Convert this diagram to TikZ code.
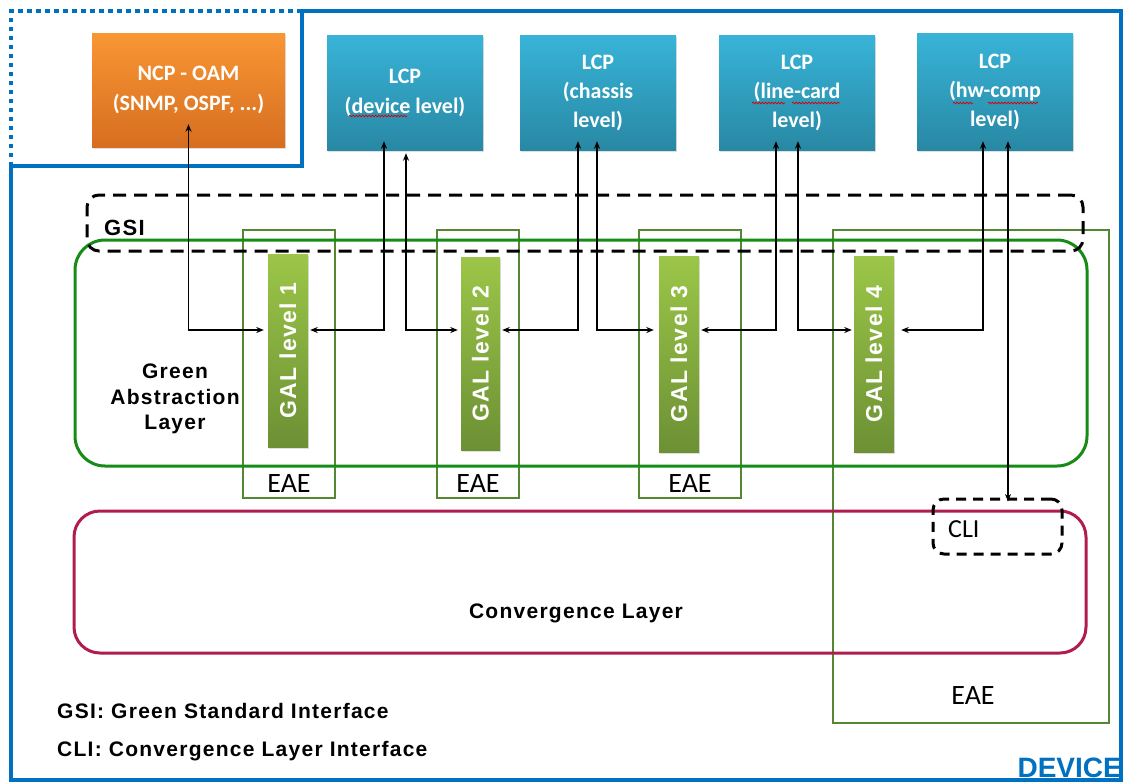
\documentclass[tikz,border=0pt]{standalone}
\usepackage{fontspec}
\setmainfont{Carlito}
\newfontfamily\arialsp[LetterSpace=6]{Liberation Sans}
\newfontfamily\arialn{Liberation Sans}
\usetikzlibrary{arrows.meta,shadows,decorations.pathmorphing}

\definecolor{devblue}{RGB}{0,112,192}
\definecolor{lcptop}{RGB}{56,180,216}
\definecolor{lcpbot}{RGB}{40,136,164}
\definecolor{ncptop}{RGB}{249,150,52}
\definecolor{ncpbot}{RGB}{214,110,32}
\definecolor{galtop}{RGB}{156,198,72}
\definecolor{galbot}{RGB}{108,144,52}
\definecolor{galline}{RGB}{22,140,22}
\definecolor{eaeline}{RGB}{84,134,52}
\definecolor{convline}{RGB}{176,28,80}

\tikzset{
  softshadow/.style={drop shadow={opacity=0.25,shadow xshift=1pt,shadow yshift=-2pt}},
  ctrlbox/.style={rectangle, draw=none, text=white, align=center, softshadow,
    font=\bfseries\fontsize{22}{29}\selectfont},
  lcpbox/.style={ctrlbox, top color=lcptop, bottom color=lcpbot,
    minimum width=156pt, minimum height=115pt},
  galbar/.style={rectangle, draw=none, top color=galtop, bottom color=galbot,
    minimum width=40pt, text=white, softshadow, inner sep=0pt,
    font=\arialsp\bfseries\fontsize{23}{26}\selectfont},
  eaebox/.style={rectangle, draw=eaeline, line width=1.2pt, fill=none},
  eaetext/.style={anchor=base, inner sep=0pt, font=\fontsize{28}{32}\selectfont},
  layerbox/.style={rectangle, line width=3pt, fill=none},
  ifacebox/.style={rectangle, draw=black, line width=3pt, fill=none,
    dash pattern=on 13pt off 8pt},
  boldlabel/.style={inner sep=0pt, font=\arialsp\bfseries\fontsize{21}{25.5}\selectfont},
  link/.style={draw=black, line width=1.5pt, {Stealth[length=7.5pt,width=6pt]}-{Stealth[length=7.5pt,width=6pt]}},
  squiggle/.style={draw=red!85!black, line width=0.7pt,
    decorate, decoration={snake, amplitude=0.9pt, segment length=3.2pt}},
}

\begin{document}
\begin{tikzpicture}[x=1pt,y=-1pt]
\useasboundingbox (0,0) rectangle (1124,782);
\fill[white] (0,0) rectangle (1124,782);

% device frame with the step around the management corner
\draw[devblue, line width=4.5pt, line join=miter]
  (302,11) -- (1121,11) -- (1121,780) -- (11,780) -- (11,166) -- (302,166) -- cycle;
\draw[devblue, line width=4.5pt, dash pattern=on 4.5pt off 4.5pt]
  (11,166) -- (11,11) -- (302,11);

% control plane boxes
\node[ctrlbox, top color=ncptop, bottom color=ncpbot,
      minimum width=193pt, minimum height=114pt, font=\bfseries\fontsize{22}{30}\selectfont]
  (ncp) at (188.5,90) {NCP - OAM\\(SNMP, OSPF, ...)};
\node[lcpbox, font=\bfseries\fontsize{22}{30}\selectfont] (lcp1) at (405,92.5) {LCP\\(device level)};
\node[lcpbox] (lcp2) at (598,92.5) {LCP\\(chassis\\level)};
\node[lcpbox] (lcp3) at (797,92.5) {LCP\\(line-card\\level)};
\node[lcpbox, minimum height=117pt] (lcp4) at (995,91.5) {LCP\\(hw-comp\\level)};

% spell-check marks under the words
\draw[squiggle] (349,116) -- (407,116);
\draw[squiggle] (752,103) -- (785,103);
\draw[squiggle] (792,103) -- (840,103);
\draw[squiggle] (953,103) -- (973,103);
\draw[squiggle] (988,103) -- (1038,103);

% energy aware entity frames
\node[eaebox, minimum width=92pt, minimum height=268pt] (eae1) at (289,364) {};
\node[eaebox, minimum width=82pt, minimum height=268pt] (eae2) at (478,364) {};
\node[eaebox, minimum width=102pt, minimum height=268pt] (eae3) at (690,364) {};
\node[eaebox, minimum width=276pt, minimum height=493pt] (eae4) at (971,476.5) {};
\node[eaetext] (eae1t) at (289,492) {EAE};
\node[eaetext] (eae2t) at (478,492) {EAE};
\node[eaetext] (eae3t) at (690,492) {EAE};
\node[eaetext] (eae4t) at (973,704) {EAE};

% layers
\node[layerbox, draw=galline, rounded corners=30pt,
      minimum width=1012pt, minimum height=226pt] (gal) at (581,353) {};
\node[layerbox, draw=convline, rounded corners=26pt,
      minimum width=1012pt, minimum height=142pt] (conv) at (580,582) {};
\node[ifacebox, rounded corners=12pt, minimum width=996pt, minimum height=56pt] (gsi) at (585,223) {};
\node[ifacebox, rounded corners=11pt, dash pattern=on 10pt off 7pt,
      minimum width=129pt, minimum height=55pt] (cli) at (997.5,526.5) {};

\node[boldlabel, align=center] (galtxt) at (175,399) {Green\\Abstraction\\Layer};
\node[boldlabel, anchor=base west, font=\arialsp\bfseries\fontsize{22}{26}\selectfont] (gsitxt) at (104,235) {GSI};
\node[anchor=base west, inner sep=0pt, font=\fontsize{26}{30}\selectfont] (clitxt) at (948,537) {CLI};
\node[boldlabel, anchor=base] (convtxt) at (576,618) {Convergence Layer};

% GAL levels
\node[galbar, minimum height=193pt] (gal1) at (288,350.5) {\rotatebox{90}{GAL level 1}};
\node[galbar, minimum height=193pt, minimum width=39pt] (gal2) at (480.5,353.5) {\rotatebox{90}{GAL level 2}};
\node[galbar, minimum height=196pt] (gal3) at (679,354) {\rotatebox{90}{GAL level 3}};
\node[galbar, minimum height=196pt] (gal4) at (874,354) {\rotatebox{90}{GAL level 4}};

% connections through the GSI
\coordinate (row) at (0,330);
\draw[link] ([yshift=23pt]ncp.south) |- ([xshift=-4pt]gal1.west |- row);
\draw[link] ([xshift=2pt]gal1.east |- row) -| ([xshift=-21pt,yshift=9pt]lcp1.south);
\draw[link] ([xshift=1pt,yshift=-3pt]lcp1.south) |- ([xshift=-3pt]gal2.west |- row);
\draw[link] ([xshift=2pt]gal2.east |- row) -| ([xshift=-20pt,yshift=9pt]lcp2.south);
\draw[link] ([xshift=-1pt,yshift=9pt]lcp2.south) |- ([xshift=-5pt]gal3.west |- row);
\draw[link] ([xshift=2pt]gal3.east |- row) -| ([xshift=-21pt,yshift=9pt]lcp3.south);
\draw[link] ([xshift=1pt,yshift=9pt]lcp3.south) |- ([xshift=-2pt]gal4.west |- row);
\draw[link] ([xshift=7pt]gal4.east |- row) -| ([xshift=-12pt,yshift=9pt]lcp4.south);
\draw[link] ([xshift=13pt,yshift=9pt]lcp4.south) -- ([xshift=10.5pt,yshift=-4pt]cli.north);

% legend
\node[boldlabel, anchor=base west] (leg1) at (57,718) {GSI: Green Standard Interface};
\node[boldlabel, anchor=base west] (leg2) at (57,756) {CLI: Convergence Layer Interface};
\node[anchor=base east, inner sep=0pt, text=devblue,
      font=\arialn\bfseries\fontsize{28}{32}\selectfont] (dev) at (1122,777) {DEVICE};
\end{tikzpicture}
\end{document}
